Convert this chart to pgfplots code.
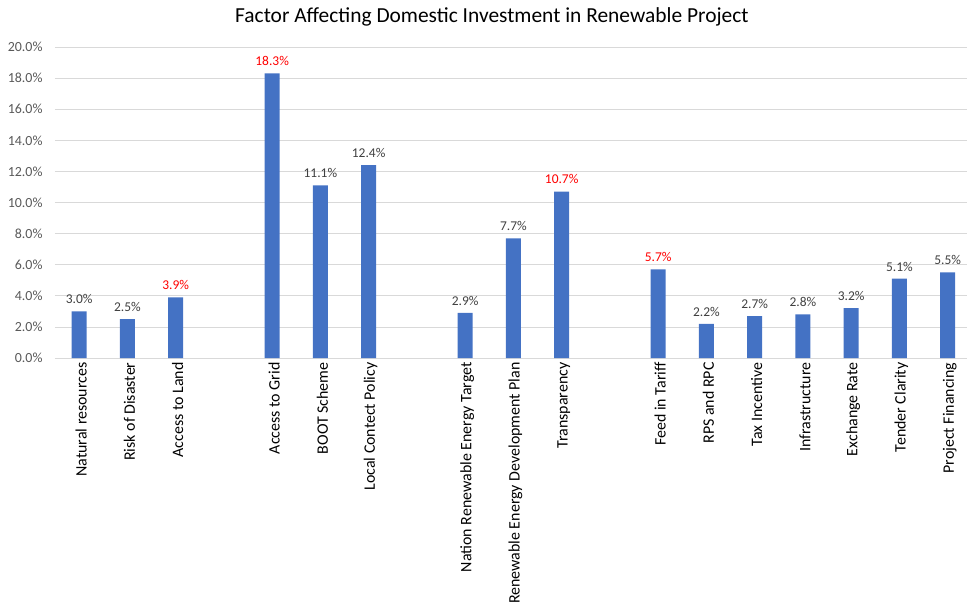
\documentclass[border=0pt]{standalone}
\usepackage{pgfplots}
\pgfplotsset{compat=1.18}
\usepackage{fontspec}
\setmainfont{Carlito}
\definecolor{barblue}{HTML}{4472C4}
\definecolor{lblgray}{HTML}{404040}
\definecolor{tickgray}{HTML}{595959}
\definecolor{gridgray}{HTML}{D9D9D9}
\definecolor{lblred}{HTML}{FF0000}
\begin{document}
\begin{tikzpicture}
\begin{axis}[
  name=ax,
  scale only axis,
  width=912bp, height=311bp,
  xmin=-0.5, xmax=18.4,
  ymin=0, ymax=20,
  ytick={0,2,...,20},
  xtick={0,1,2,4,5,6,8,9,10,12,13,14,15,16,17,18},
  xticklabels={Natural resources,Risk of Disaster,Access to Land,Access to Grid,BOOT Scheme,Local Contect Policy,Nation Renewable Energy Target,Renewable Energy Development Plan,Transparency,Feed in Tariff,RPS and RPC,Tax Incentive,Infrastructure,Exchange Rate,Tender Clarity,Project Financing},
  x tick label style={rotate=90, anchor=east, font=\fontsize{16}{18}\selectfont, text=black, inner sep=0pt, yshift=-2bp},
  xtick style={draw=none},
  ytick style={draw=none},
  /pgf/number format/assume math mode=true,
  yticklabel={\pgfmathprintnumber[fixed,fixed zerofill,precision=1]{\tick}\%},
  y tick label style={font=\fontsize{14}{16}\selectfont, text=tickgray, xshift=-9bp},
  ymajorgrids,
  grid style={gridgray, line width=0.8bp},
  axis lines*=left,
  y axis line style={draw=none},
  x axis line style={draw=gridgray, line width=0.8bp},
  ybar, bar width=15bp,
  nodes near coords={\pgfmathprintnumber[fixed,fixed zerofill,precision=1]{\pgfplotspointmeta}\%},
  nodes near coords style={font=\fontsize{13.5}{15}\selectfont, yshift=4bp},
  clip=false,
]
\addplot[fill=barblue, draw=none, bar shift=0pt, nodes near coords style={text=lblgray}] coordinates {
  (0,3.0) (1,2.5) (5,11.1) (6,12.4) (8,2.9) (9,7.7) (13,2.2) (14,2.7) (15,2.8) (16,3.2) (17,5.1) (18,5.5)
};
\addplot[fill=barblue, draw=none, bar shift=0pt, nodes near coords style={text=lblred}] coordinates {
  (2,3.9) (4,18.3) (10,10.7) (12,5.7)
};
\node[font=\fontsize{21.5}{25}\selectfont, text=black] at (axis description cs:0.479,1.096) {Factor Affecting Domestic Investment in Renewable Project};
\end{axis}
\pgfresetboundingbox
\path[use as bounding box] ([shift={(-55bp,-245bp)}]ax.south west) rectangle ([shift={(0bp,47bp)}]ax.north east);
\end{tikzpicture}
\end{document}
